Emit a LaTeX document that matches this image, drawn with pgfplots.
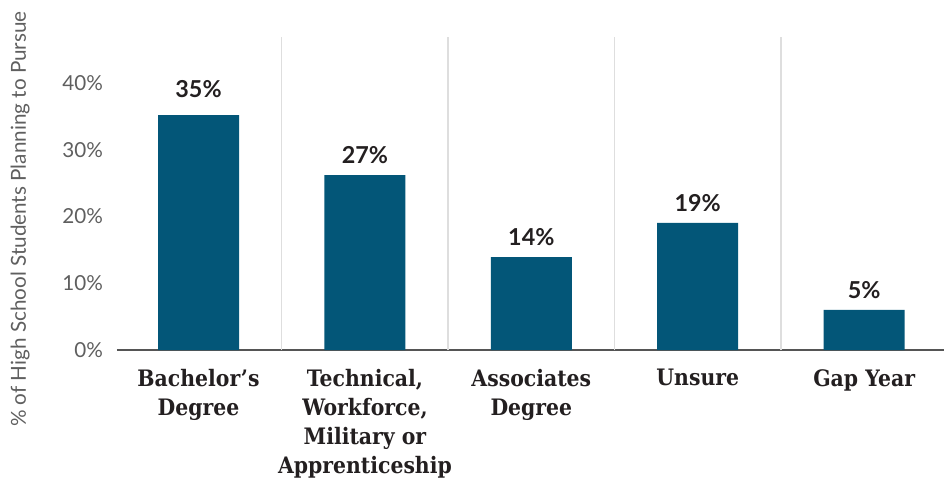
\documentclass[border=0pt]{standalone}
\usepackage{fontspec}
\setmainfont{Lato}
\newfontfamily\slab{DejaVu Serif}[FakeStretch=0.9]
\usepackage{pgfplots}
\pgfplotsset{compat=1.18}
\definecolor{barblue}{RGB}{3,86,120}
\definecolor{gridgray}{RGB}{222,222,222}
\definecolor{axisgray}{RGB}{85,85,85}
\definecolor{ticktext}{RGB}{95,95,95}
\definecolor{darktext}{RGB}{35,31,32}
\begin{document}
\begin{tikzpicture}
\begin{axis}[
  scale only axis,
  width=620.25pt, height=234.75pt,
  xmin=-0.49, xmax=4.48,
  ymin=0, ymax=46.9,
  axis lines*=left,
  x axis line style={draw=axisgray, line width=1pt},
  y axis line style={draw=none},
  xtick={0,1,2,3,4},
  xticklabels={{Bachelor’s\\Degree},{Technical,\\Workforce,\\Military or\\Apprenticeship},{Associates\\Degree},{Unsure},{Gap Year}},
  xticklabel style={align=center, font=\slab\bfseries\fontsize{17}{21.75}\selectfont, text=darktext, anchor=north, yshift=-11pt},
  xtick style={draw=none},
  ytick={0,10,20,30,40},
  yticklabels={0\%,10\%,20\%,30\%,40\%},
  yticklabel style={font=\fontsize{15.5}{18}\selectfont, text=ticktext, xshift=-7pt},
  ytick style={draw=none},
  extra x ticks={0.5,1.5,2.5,3.5},
  extra x tick labels={},
  extra x tick style={grid=major, major grid style={draw=gridgray, line width=1pt}, major tick length=31.5pt, tick align=outside, tick style={draw=gridgray, line width=1pt}},
  ylabel={\% of High School Students Planning to Pursue},
  ylabel style={at={(axis description cs:-0.117,0.418)}, anchor=center, font=\fontsize{15.5}{18}\selectfont, text=ticktext},
  clip=false,
  nodes near coords,
  point meta=explicit symbolic,
  nodes near coords style={font=\bfseries\fontsize{17.5}{20}\selectfont, text=darktext, anchor=south, yshift=5pt},
]
\addplot[ybar, bar width=60.75pt, fill=barblue, draw=none] coordinates {
  (0,35.2) [\raisebox{5pt}{35\%}]
  (1,26.2) [27\%]
  (2,13.9) [14\%]
  (3,19.05) [19\%]
  (4,6.0) [5\%]
};
\end{axis}
\pgfresetboundingbox
\path[use as bounding box] (-87.75pt,-96.75pt) rectangle (620.25pt,262.5pt);
\end{tikzpicture}
\end{document}
